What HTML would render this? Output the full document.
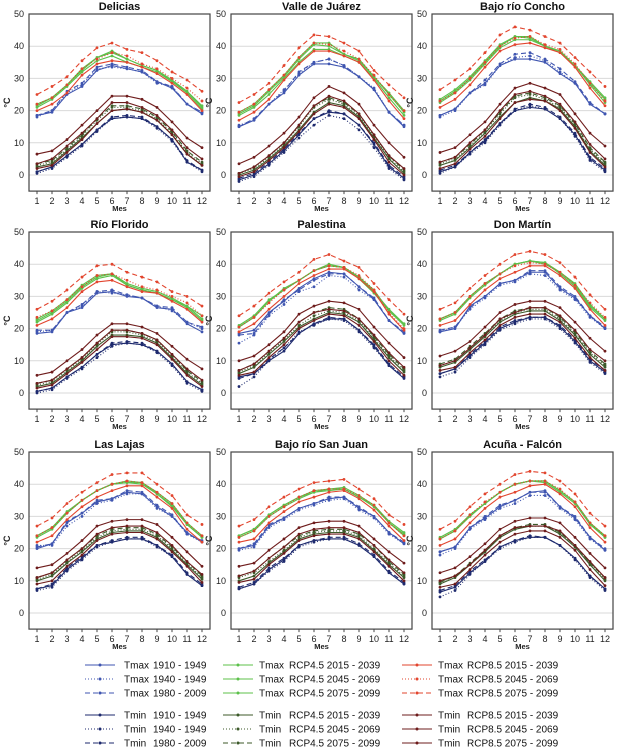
<!DOCTYPE html>
<html><head><meta charset="utf-8"><style>
html,body{margin:0;padding:0;background:#fff;}
svg{display:block;font-family:"Liberation Sans",sans-serif;}
</style></head><body>
<svg id="chart" width="629" height="755" viewBox="0 0 629 755" xmlns="http://www.w3.org/2000/svg"></svg>
<script>
const months = [1,2,3,4,5,6,7,8,9,10,11,12];
const yTicks = [0,10,20,30,40,50];
const panelNames = ["Delicias","Valle de Juárez","Bajo río Concho","Río Florido","Palestina","Don Martín","Las Lajas","Bajo río San Juan","Acuña - Falcón"];
// order: hist1910, hist1940, hist1980, rcp45-2015, rcp45-2045, rcp45-2075, rcp85-2015, rcp85-2045, rcp85-2075
const deliciasTmax = [
[18.5,19.5,25,27.5,32.5,34,33,32,29,27,22,19],[18,20,25.5,28,33,33.5,33,32,28.5,27.5,22,19.5],[18.5,20,26,28.5,33.5,34.5,33.5,32.5,29,27.5,22,19.5],
[21,23.5,27.5,32,35.5,37,35,33.5,32,29,25.5,20.5],[21.5,24,28,32.5,36.5,38.5,36,34,32.5,29,26,21],[22,24,28,33,36.5,38,36,34,32.5,29.5,26,21.5],
[20,22,25.5,31,34.5,35.5,35,33.5,31.5,28.5,25,20],[22,24,28,33,36,38,37,34.5,33,30,27,23],[25,27.5,30.5,35.5,39.5,41,39,38,35.5,32,29.5,26]];
const deliciasTmin = [
[1,2.5,6,9.5,14,17.5,18,17.5,15,11,4,1.5],[0.5,2,5.5,9,13.5,17.5,18,17.5,14.5,10.5,4,1],[1,2.5,6,9.5,14,18,18.5,18,15,11,4.5,1.5],
[2.5,3.5,7.5,11.5,16,20,20.5,19.5,17,12.5,6.5,3],[3,4,8,12,17,21,21,20,17.5,13,7,3.5],[3.5,4.5,8.5,12.5,17.5,21.5,21.5,20.5,18,13.5,7.5,4],
[2,3,7,11,16,20,20.5,19.5,17,12.5,6.5,3],[3.5,5,9,13,17.5,22.5,22.5,21,18.5,14,8.5,5],[6.5,7.5,11,15.5,20,24.5,24.5,23.5,21,16.5,11.5,8.5]];
const valleTmax = [
[15,17,22,25.5,31,34.5,34.5,33.5,30.5,26.5,19.5,15],[15.5,17,22,26.5,31.5,35,36,34,30.5,27,19.5,15.5],[15,17.5,22,26,32,35,36,34,30.5,26.5,19.5,15.5],
[18.5,21,25,30,35,39,39,37,35,30,24,18.5],[19,21.5,26,30.5,36,40.5,40,37.5,35.5,30.5,25,19.5],[19.5,22,26.5,31,36.5,41,41,37.5,36,30.5,25.5,20],
[17,19.5,23.5,29.5,34.5,38.5,38.5,37,35,29.5,23,17.5],[19.5,22,26.5,31,36.5,41,40.5,38.5,36,31,25,20],[22.5,25,28.5,34,39.5,43.5,43,41,38.5,32.5,28,24]];
const valleTmin = [
[-1.5,0,3.5,7.5,12.5,17.5,19.5,19,15.5,9.5,2.5,-1],[-2,-0.5,3,7,11.5,15.5,18.5,17.5,14,8.5,2,-1.5],[-1,0.5,4,8,13,17.5,20,19,15.5,10,3,-0.5],
[0,1.5,5,9,14,19.5,22.5,21.5,18,11.5,5,0.5],[0.5,2,5.5,9.5,15,21,23.5,22,18.5,12,5.5,1],[0.5,2.5,6,10,15.5,21.5,24,22.5,19,12.5,6,1.5],
[-0.5,1,4.5,8.5,13.5,19,22,21,17.5,11,4,0],[0.5,2.5,6,10,15.5,21.5,24.5,23,19,12.5,6,2],[3.5,5.5,9,13,18,24,27.5,25.5,22,15.5,10,5.5]];
const conchoTmax = [
[18.5,20.5,25.5,28.5,34,36,36,35,31.5,28.5,22,19],[18,20,25.5,28,34,36.5,37,35.5,32,28.5,22,19],[18.5,20.5,25.5,29.5,34.5,37.5,38,36,33,29,22.5,19],
[22.5,25.5,29.5,34.5,39.5,42,42,40,38,34,28,22.5],[23,26,30,35,40,43,43,40,38.5,34,28.5,23.5],[23.5,26.5,30.5,35.5,40.5,43,42.5,40,38.5,34,29,24],
[21,23.5,28,33.5,38.5,40.5,41,39.5,38,33.5,27,21.5],[23,25.5,30,35,40,42.5,43,40.5,39,34.5,28.5,23],[26.5,29.5,33,38,43.5,46,45,43,41,36.5,32,27.5]];
const conchoTmin = [
[1,2.5,7,10.5,16,20,21,20.5,17.5,12.5,5,1.5],[0.5,2.5,6.5,10,15.5,20,21.5,20.5,17.5,12,4.5,1],[1.5,3,7,11,16,20.5,22,21,18,13,5.5,2],
[3,4.5,8.5,13,18,22.5,24,23,20.5,15,7.5,3],[3.5,5,9,13.5,19,24,25,23.5,21,15.5,8,3.5],[4,5.5,9.5,14,19.5,24.5,25.5,24,21.5,16,8.5,4],
[2,3.5,8,12,17.5,22.5,23.5,23,20,14.5,7,2.5],[4,5.5,10,14,20,25,26,24.5,22,16.5,9.5,5],[7,8.5,12.5,16.5,22,27,28.5,27,25,19,13,9]];
const floridoTmax = [
[18.5,19,25,26.5,31,31.5,30,29.5,26.5,26,21.5,19],[19,19.5,25,27,31.5,31,30.5,29.5,27,25.5,22,20],[19.5,19.5,25,27.5,31.5,32,30.5,29.5,27,26.5,22,20.5],
[22,24.5,28,32.5,35.5,36.5,33.5,32,31,29,26.5,22.5],[22.5,25,28.5,33,36,37,33.5,32,31,29,27,23],[23,25.5,29,33.5,36.5,37,34,32.5,31.5,29.5,27,24],
[21,23,26.5,31.5,34.5,35,33,31.5,31,28.5,26,22],[23.5,25.5,29,33,36.5,37,35,33,32,30,28,24],[26,28.5,32,36,39.5,40,37.5,36,34.5,31.5,30,27]];
const floridoTmin = [
[0.5,1.5,5,8,12,15,15.5,15,13,9,3.5,1],[0,1,4.5,7.5,11,14.5,15.5,15,12.5,8.5,3,0.5],[0.5,1.5,5,8,12,15.5,16,15.5,13,9,3.5,1],
[2,3,6.5,10,14.5,18,18,17.5,15.5,11,6,2.5],[2.5,3.5,7,10.5,15,19,19,18,16,11.5,6.5,3],[3,4,7.5,11,15.5,19.5,19.5,18.5,16.5,12,7,3.5],
[1.5,2.5,6,9.5,13.5,17.5,17.5,17,15,10.5,5.5,2],[3,4,7.5,11,15.5,19.5,19.5,18.5,16.5,12,7.5,4],[5.5,6.5,10,13.5,18,21.5,21.5,20.5,18.5,14.5,10.5,7.5]];
const palestinaTmax = [
[18.5,19.5,25,28.5,32.5,35.5,37.5,37,33,29,22.5,18.5],[15.5,18,24,27.5,31.5,33,36.5,36,32,29,22.5,18.5],[18,18.5,24.5,29,32,35,37,37,33,29.5,22.5,19],
[21,24,29,32,35,38,40,39,36,32,25.5,21.5],[20.5,23.5,28.5,32,35,38,39.5,39,35.5,31,25.5,21],[20.5,23.5,28.5,32.5,35,38,39.5,39,36,31.5,26,21.5],
[19,21.5,26,30,34,36.5,38.5,38.5,35.5,31.5,24.5,19.5],[20.5,23.5,28,32,35,38,39.5,39,36.5,32,25,20],[24,27,31,34.5,37.5,41.5,43,41,39,34,29,24.5]];
const palestinaTmin = [
[5,6,10,13,18.5,21.5,23,23,19.5,14.5,8.5,4.5],[2,5,10,14,19,21,23,22.5,19,14,8.5,5],[4.5,6,10.5,14,18.5,21.5,23.5,23,19.5,15,9,5],
[6,8,12,16,20.5,23,25,24.5,22,16.5,11,6.5],[6.5,8.5,12.5,16.5,21,24,25.5,25,22.5,17,11.5,7],[7,9,13,17,22,25,26.5,26,23,17.5,12,7.5],
[5.5,6.5,11,15,20,22.5,24.5,24,21,16,10,5.5],[7,9,13,17,22,25,26,25.5,23,18,12.5,8],[10,11.5,15,19,24.5,27,28.5,28,26,20.5,15.5,11]];
const martinTmax = [
[19,20,27,30,34,35,37.5,37.5,32.5,29.5,24,20],[19,20.5,26,29.5,33.5,34.5,37,36.5,32,29,23.5,20],[19.5,20.5,26.5,30,34,35,38,38,33,30,24,20.5],
[22.5,24.5,29.5,33.5,37,40,41,40.5,37,33,26.5,22.5],[23,25,30,34,37,40,41,40,37.5,33.5,27,23],[23,25,30,34,37,40,41,40.5,37.5,34,27.5,23],
[21,22.5,27.5,32,35.5,37.5,39.5,39.5,36.5,32.5,26,21],[23,25,30,34,37,39.5,40.5,40,37.5,33.5,28,23.5],[26,28,32.5,36.5,40,43,44,43,40.5,36,30.5,26]];
const martinTmin = [
[6,7.5,11.5,15.5,20,22,23.5,23.5,20.5,16,10,6.5],[5,6.5,11,15,19.5,21.5,23,23,20,15.5,9.5,6],[6,7.5,12,16,20.5,22.5,23.5,23.5,21,16.5,10.5,7],
[8,9.5,13.5,17.5,22,24.5,25.5,25.5,22.5,18,12,8],[8.5,10,14,18,22.5,25,26,26,23,18.5,12.5,8.5],[9,10.5,14.5,18.5,23,25.5,26.5,26.5,23.5,19,13,9],
[7,8,12.5,16.5,21,23.5,24.5,24.5,22,17,11,7],[8.5,10,14,18,23,25,26.5,26.5,24,19.5,13.5,10],[11.5,13,16,20.5,25,27.5,28.5,28.5,26.5,22,17,13]];
const lajasTmax = [
[20,21.5,28,31,34.5,35.5,37.5,37,33,30,25,22],[21,21,27,30,34,35,37,37,32.5,30,24.5,22],[20.5,21.5,28.5,31,35,35.5,38,37.5,33.5,30.5,24.5,22.5],
[24,26.5,31.5,35,38,40,41,40.5,37.5,34,28,24],[24,26.5,31,35,38,40,40.5,40,37,33.5,27.5,23.5],[23.5,26,31,35,38,40,40.5,40.5,37,33,27.5,23.5],
[22,24,29,33,36,38,39.5,39.5,36,32.5,26,22],[24,26.5,31,35,38,40,41,40.5,37.5,34,28,24],[27,29.5,34,37.5,40.5,43,43.5,43.5,40,36.5,30.5,27.5]];
const lajasTmin = [
[7.5,8.5,13.5,17,21,22,23,23,21,17.5,12,8.5],[7,8,13,16.5,20.5,22,23,23,20.5,17.5,12,8.5],[7.5,9,14,17.5,21,22.5,23.5,23.5,21,18,12.5,9],
[10,11.5,15.5,19,23,25,25.5,25.5,23.5,19.5,15,10.5],[10.5,12,16,19.5,23.5,25.5,26,26,24,20,15.5,11],[11,12.5,16.5,20,24,26,26.5,26.5,24.5,20.5,16,11.5],
[9,10,14.5,18,22.5,24.5,25,25,23,19,14.5,9.5],[11,12.5,16.5,20,24.5,26.5,27,27,25,21,16,12],[14,15,18.5,22.5,27,28.5,29,29,27.5,23.5,19,14.5]];
const sanjuanTmax = [
[20,21,27,29.5,32.5,34,35.5,36,32.5,30,25,21.5],[19.5,20.5,26.5,29,32,33.5,35,35.5,32,29.5,24.5,21.5],[20,21.5,27.5,29.5,32.5,34,36,36,33,30,25,22],
[24,26,30.5,33.5,36,37.5,38.5,38.5,36,33.5,28,24.5],[24,26,30.5,33.5,36,38,38.5,39,36.5,33.5,28.5,25],[23.5,25.5,30,33,35.5,37.5,38,38.5,36,33,28,24],
[22,23,28,31.5,34.5,36,37.5,38,35.5,32,27,22.5],[23.5,25.5,30,33,36,38,38.5,38.5,36.5,33.5,28,24],[27,29,33,36,38.5,40.5,41,41.5,38.5,35.5,30.5,27.5]];
const sanjuanTmin = [
[7.5,9,13.5,16.5,21,22.5,23,23,21,17.5,12.5,9],[7.5,9,13,16,20.5,22,23,23,21,17.5,12.5,9],[8,9.5,14,17,21,22.5,23.5,23.5,21.5,18,13,9.5],
[10,11.5,15.5,19,23,24.5,25,25,23.5,19.5,15,11],[11,12.5,16,19.5,23.5,25,25.5,25.5,24,20,15.5,11.5],[11.5,13,17,20.5,24,25.5,26,26,24.5,21,16,12],
[9.5,10.5,15,18.5,22.5,24,24.5,24.5,23,19,14.5,10],[11.5,13,17,20.5,24.5,26,26.5,26.5,25,21,16.5,12.5],[14.5,15.5,19.5,23,26.5,28,28.5,28.5,27,23,19,15.5]];
const acunaTmax = [
[19,20.5,26.5,29.5,33,35,37.5,38,33,29.5,23.5,19.5],[18,20,26,29,32.5,34,36.5,36.5,32.5,29,23,19.5],[19,20.5,26.5,30,33.5,35,37.5,37.5,33,30,23.5,20],
[23,25.5,30.5,34,37.5,40,41,41,38,34.5,28,23.5],[23.5,26,30.5,34,37.5,40,41,41,38,34.5,28,24],[23,25.5,30,34,37.5,40,41,40.5,37.5,34,27.5,23.5],
[21,23,28,32.5,36,37.5,39.5,40,37,33,26.5,22],[23,25.5,30.5,34.5,37.5,40,41,41,38.5,34.5,28,24],[26,28.5,33,37,40,43,44,43.5,41,37,31,27]];
const acunaTmin = [
[6.5,8,12.5,16,20.5,22.5,23.5,23.5,21,17,11.5,7.5],[5,7,12,16,20,22,23.5,23.5,21,16.5,11,7],[7,8.5,13,16.5,20.5,22.5,24,23.5,21,17,11.5,7.5],
[9,11,15,19,23.5,26,27,27,24.5,20.5,15,10],[9.5,11.5,15,19,24,26.5,27,27,25,21,15.5,10.5],[9.5,11.5,15.5,19.5,24,26.5,27.5,27.5,25,21,15.5,11],
[8,9,13.5,18,22,24.5,25.5,25.5,23.5,19.5,13.5,8.5],[10,11.5,15,19.5,24,26.5,27,27,25.5,21,16,11],[12.5,14,17.5,21.5,26,28.5,29.5,29.5,28,23.5,18.5,14]];

const allTmax = [deliciasTmax,valleTmax,conchoTmax,floridoTmax,palestinaTmax,martinTmax,lajasTmax,sanjuanTmax,acunaTmax];
const allTmin = [deliciasTmin,valleTmin,conchoTmin,floridoTmin,palestinaTmin,martinTmin,lajasTmin,sanjuanTmin,acunaTmin];

const NS = "http://www.w3.org/2000/svg";
const svg = document.getElementById("chart");
function mk(tag, attrs, parent){ const e=document.createElementNS(NS,tag); for(const k in attrs) e.setAttribute(k,attrs[k]); (parent||svg).appendChild(e); return e; }

const tmaxStyles = [
 {c:"#3f55b0",d:""},{c:"#3f55b0",d:"1,2"},{c:"#3f55b0",d:"5,3"},
 {c:"#5cc04a",d:""},{c:"#5cc04a",d:""},{c:"#5cc04a",d:""},
 {c:"#e2452e",d:""},{c:"#e2452e",d:"1,2"},{c:"#e2452e",d:"5,3"}];
const tminStyles = [
 {c:"#1e2a6e",d:""},{c:"#1e2a6e",d:"1,2"},{c:"#1e2a6e",d:"5,3"},
 {c:"#3c5a2a",d:""},{c:"#3c5a2a",d:"1,2"},{c:"#3c5a2a",d:"5,3"},
 {c:"#6e1c1c",d:""},{c:"#6e1c1c",d:""},{c:"#6e1c1c",d:""}];
const seriesLabels = ["hist-1910-1949","hist-1940-1949","hist-1980-2009","rcp45-2015-2039","rcp45-2045-2069","rcp45-2075-2099","rcp85-2015-2039","rcp85-2045-2069","rcp85-2075-2099"];

const colX = [37,239,440], rowY = [14,232,452];
const dx = 15, pxPerDeg = 3.22;

for(let p=0;p<9;p++){
  const x1 = colX[p%3], y50 = rowY[Math.floor(p/3)];
  const y0 = y50 + 50*pxPerDeg;
  const xs = m => x1 + (m-1)*dx;
  const ys = v => y0 - v*pxPerDeg;
  const g = mk("g",{});
  
  
  const L = x1-8, R = xs(12)+8, T = y50, B = ys(-5);
  // gridlines
  for(const t of yTicks){
    if(t<50){ const gl=mk("line",{x1:L,x2:R,y1:ys(t),y2:ys(t),stroke:"#d9d9d9","stroke-width":1},g);
        }
    const tl=mk("text",{x:L-5,y:ys(t)+3,"text-anchor":"end","font-size":"9",fill:"#222"},g);
    tl.textContent=t;
     
  }
  const yt=mk("text",{x:L-19,y:(T+B)/2,"text-anchor":"middle","font-size":"9","font-weight":"bold",transform:`rotate(-90 ${L-19} ${(T+B)/2})`,fill:"#222"},g);
  yt.textContent="°C";
   
  const box=mk("rect",{x:L,y:T,width:R-L,height:B-T,fill:"none",stroke:"#444","stroke-width":1.2},g);
   
  for(const m of months){
    mk("line",{x1:xs(m),x2:xs(m),y1:B,y2:B+3,stroke:"#444","stroke-width":1},g);
    const xl=mk("text",{x:xs(m),y:B+13,"text-anchor":"middle","font-size":"9",fill:"#222"},g);
    xl.textContent=m;
     
  }
  const xt=mk("text",{x:(L+R)/2,y:B+20,"text-anchor":"middle","font-size":"7.5","font-weight":"bold",fill:"#222"},g);
  xt.textContent="Mes";
   
  const tt=mk("text",{x:(L+R)/2,y:T-4,"text-anchor":"middle","font-size":"11","font-weight":"bold",fill:"#111"},g);
  tt.textContent=panelNames[p];
   

  const draw = (data, styles, kind) => {
    for(let s=0;s<data.length;s++){
      const vals=data[s], st=styles[s];
      const pts=vals.map((v,i)=>xs(months[i])+","+ys(v)).join(" ");
      const pl=mk("polyline",{points:pts,fill:"none",stroke:st.c,"stroke-width":1.1,"stroke-dasharray":st.d},g);
      
      
      vals.forEach((v,i)=>{
        const c=mk("circle",{cx:xs(months[i]),cy:ys(v),r:1.4,fill:st.c},g);
        
        
      });
    }
  };
  draw(allTmin[p], tminStyles, "tmin");
  draw(allTmax[p], tmaxStyles, "tmax");
}

// legend
const legendRows = [
 ["Tmax","1910 - 1949",tmaxStyles[0]],["Tmax","1940 - 1949",tmaxStyles[1]],["Tmax","1980 - 2009",tmaxStyles[2]],
 ["Tmin","1910 - 1949",tminStyles[0]],["Tmin","1940 - 1949",tminStyles[1]],["Tmin","1980 - 2009",tminStyles[2]]];
const legendRows2 = [
 ["Tmax","RCP4.5 2015 - 2039",tmaxStyles[3]],["Tmax","RCP4.5 2045 - 2069",tmaxStyles[4]],["Tmax","RCP4.5 2075 - 2099",tmaxStyles[5]],
 ["Tmin","RCP4.5 2015 - 2039",tminStyles[3]],["Tmin","RCP4.5 2045 - 2069",tminStyles[4]],["Tmin","RCP4.5 2075 - 2099",tminStyles[5]]];
const legendRows3 = [
 ["Tmax","RCP8.5 2015 - 2039",tmaxStyles[6]],["Tmax","RCP8.5 2045 - 2069",tmaxStyles[7]],["Tmax","RCP8.5 2075 - 2099",tmaxStyles[8]],
 ["Tmin","RCP8.5 2015 - 2039",tminStyles[6]],["Tmin","RCP8.5 2045 - 2069",tminStyles[7]],["Tmin","RCP8.5 2075 - 2099",tminStyles[8]]];
const legY = [665,679,693,715,729,743];
const legCols = [{lx:85,tx:124,vx:153,rows:legendRows},{lx:223,tx:259,vx:289,rows:legendRows2},{lx:402,tx:438,vx:467,rows:legendRows3}];
const lg = mk("g",{});


legCols.forEach(col=>{
  col.rows.forEach((r,i)=>{
    const y=legY[i];
    const e=mk("g",{},lg);
    
    
    mk("line",{x1:col.lx,x2:col.lx+30,y1:y,y2:y,stroke:r[2].c,"stroke-width":1.1,"stroke-dasharray":r[2].d},e);
    mk("circle",{cx:col.lx+15,cy:y,r:1.5,fill:r[2].c},e);
    const t1=mk("text",{x:col.tx,y:y+3.5,"font-size":"10",fill:"#111"},e); t1.textContent=r[0];
    const t2=mk("text",{x:col.vx,y:y+3.5,"font-size":"10",fill:"#111"},e); t2.textContent=r[1];
  });
});
</script>
</body></html>
